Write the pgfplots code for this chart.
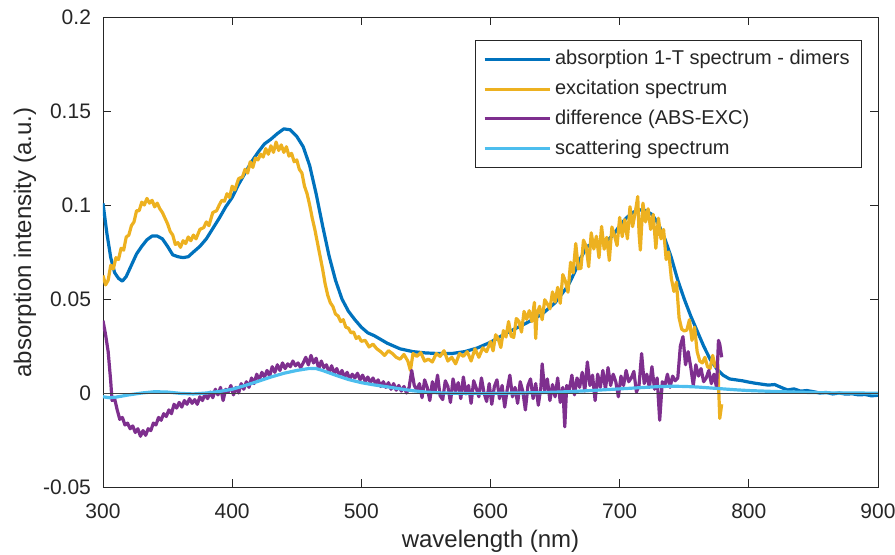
\documentclass[border=0pt]{standalone}
\usepackage{pgfplots}
\pgfplotsset{compat=1.18}
\usepackage{fontspec}
\setmainfont{Liberation Sans}
\definecolor{mblue}{rgb}{0,0.447,0.741}
\definecolor{morange}{rgb}{0.929,0.694,0.125}
\definecolor{mpurple}{rgb}{0.494,0.184,0.556}
\definecolor{mlblue}{rgb}{0.301,0.745,0.933}
\definecolor{axgray}{rgb}{0.15,0.15,0.15}
\begin{document}
\begin{tikzpicture}
\path[use as bounding box] (-51.5pt,-33.5pt) rectangle (396pt,243.5pt);
\begin{axis}[
  scale only axis, width=387.5pt, height=235pt,
  xmin=300, xmax=900, ymin=-0.05, ymax=0.2,
  xtick={300,400,500,600,700,800,900},
  xticklabels={300,400,500,600,700,800,900},
  ytick={-0.05,0,0.05,0.1,0.15,0.2},
  yticklabels={-0.05,0,0.05,0.1,0.15,0.2},
  tick label style={font=\fontsize{10.5}{12}\selectfont, text=axgray},
  yticklabel style={xshift=-2.5pt},
  xticklabel style={yshift=-5pt},
  major tick length=4pt,
  tick style={axgray, line width=0.4pt},
  axis line style={axgray, line width=0.4pt},
  xlabel={wavelength (nm)}, ylabel={absorption intensity (a.u.)},
  label style={font=\fontsize{12}{14}\selectfont, text=axgray},
  xlabel style={at={(axis description cs:0.5,-0.1149)}, anchor=center},
  ylabel style={at={(axis description cs:-0.1006,0.52)}, anchor=center},
  legend style={at={(axis description cs:0.9794,0.951)}, anchor=north east,
    font=\fontsize{10}{12}\selectfont, draw=axgray, line width=0.4pt,
    inner xsep=4pt, inner ysep=3pt, row sep=2.2pt, text=axgray},
  legend cell align=left,
  legend image code/.code={\draw[#1, line width=1.5pt] (0pt,0pt) -- (32.5pt,0pt);},
]
\addplot[mblue, line width=1.6pt, line join=round] coordinates {
(300,0.1009)(303,0.085)(306,0.072)(309,0.064)(312,0.061)(315,0.0595)(318,0.062)(322,0.068)(326,0.074)(330,0.078)(334,0.0815)(338,0.0835)(342,0.0835)(346,0.082)(350,0.078)(354,0.0735)(358,0.0725)(362,0.072)(366,0.0725)(370,0.075)(375,0.078)(380,0.082)(385,0.0875)(390,0.093)(395,0.099)(400,0.104)(405,0.111)(410,0.117)(415,0.123)(420,0.128)(425,0.1325)(430,0.135)(435,0.138)(440,0.1405)(445,0.140)(450,0.1365)(455,0.131)(460,0.121)(465,0.106)(470,0.089)(475,0.073)(480,0.060)(485,0.050)(490,0.0435)(495,0.039)(500,0.035)(505,0.032)(510,0.0305)(515,0.0285)(520,0.0265)(530,0.0235)(540,0.022)(550,0.0213)(560,0.021)(570,0.021)(580,0.022)(590,0.024)(600,0.027)(610,0.031)(620,0.0345)(630,0.038)(640,0.042)(650,0.048)(660,0.057)(665,0.064)(670,0.072)(675,0.078)(680,0.080)(690,0.081)(695,0.084)(700,0.089)(705,0.093)(710,0.096)(715,0.0975)(720,0.097)(725,0.095)(730,0.090)(735,0.082)(740,0.072)(745,0.060)(750,0.050)(755,0.041)(760,0.033)(765,0.025)(770,0.018)(775,0.013)(780,0.0095)(785,0.0075)(790,0.007)(795,0.0065)(800,0.0058)(805,0.0052)(810,0.0047)(815,0.0042)(820,0.0045)(825,0.003)(830,0.0016)(835,0.0022)(840,0.001)(845,0.0013)(850,0.0007)(855,0.0)(860,0.0003)(865,-0.0005)(870,0)(875,-0.0006)(880,-0.0004)(885,-0.001)(890,-0.0008)(895,-0.0015)(900,-0.0012)
};
\addlegendentry{absorption 1-T spectrum - dimers}
\addplot[morange, line width=1.6pt, line join=round] coordinates {
(300,0.0625)(302,0.0575)(304,0.060)(306,0.068)(308,0.066)(310,0.072)(312,0.071)(314,0.077)(316,0.076)(318,0.083)(320,0.084)(322,0.089)(324,0.091)(326,0.097)(328,0.097)(330,0.1015)(332,0.100)(334,0.1035)(336,0.101)(338,0.1025)(340,0.099)(342,0.101)(344,0.098)(346,0.096)(348,0.093)(350,0.090)(352,0.086)(354,0.084)(356,0.079)(358,0.080)(360,0.0775)(362,0.081)(364,0.0795)(366,0.083)(368,0.081)(370,0.084)(372,0.082)(375,0.087)(378,0.088)(380,0.091)(382,0.089)(385,0.096)(388,0.097)(390,0.100)(392,0.1025)(394,0.102)(396,0.106)(398,0.104)(400,0.110)(402,0.108)(405,0.114)(408,0.115)(410,0.119)(412,0.117)(414,0.123)(416,0.120)(418,0.125)(420,0.124)(422,0.127)(424,0.1255)(426,0.130)(428,0.127)(430,0.1315)(432,0.128)(434,0.1335)(436,0.129)(438,0.132)(440,0.128)(442,0.131)(444,0.126)(446,0.1275)(448,0.123)(450,0.124)(452,0.119)(454,0.117)(456,0.110)(458,0.106)(460,0.100)(462,0.093)(464,0.087)(466,0.080)(468,0.073)(470,0.066)(472,0.058)(474,0.052)(476,0.048)(478,0.046)(480,0.042)(482,0.041)(484,0.038)(486,0.039)(488,0.035)(490,0.0345)(492,0.032)(494,0.0325)(496,0.029)(498,0.030)(500,0.0275)
(503,0.028)(506,0.0245)(509,0.026)(512,0.0235)(515,0.022)(518,0.020)(521,0.0225)(524,0.021)(527,0.019)(530,0.018)(533,0.0205)(536,0.017)(538,0.012)(540,0.021)(543,0.0195)(546,0.0215)(549,0.017)(552,0.018)(555,0.0165)(558,0.021)(561,0.0195)(564,0.0225)(567,0.017)(570,0.019)(573,0.0155)(576,0.021)(579,0.0195)(582,0.022)(585,0.017)(588,0.0235)(591,0.019)(594,0.024)(597,0.022)
(600,0.0274)(602,0.0224)(604,0.031)(606,0.0288)(608,0.0242)(610,0.0332)(612,0.0298)(614,0.038)(616,0.0302)(618,0.0296)(620,0.0396)(622,0.0382)(624,0.0324)(626,0.0434)(628,0.0392)(630,0.0438)(632,0.038)(634,0.0482)(635,0.029)(636,0.042)(638,0.0461)(640,0.039)(642,0.0496)(644,0.0474)(646,0.0448)(648,0.0538)(650,0.0484)(652,0.0562)(654,0.0477)(656,0.063)(658,0.0594)(660,0.0536)(662,0.0696)(664,0.0639)(666,0.0795)(668,0.0661)(670,0.0663)(672,0.0813)(674,0.0781)(676,0.0672)(678,0.0852)(680,0.0766)(682,0.0834)(684,0.072)(686,0.0886)(688,0.0765)(690,0.0828)(692,0.0705)(694,0.0883)(696,0.0837)(698,0.0784)(700,0.0934)(702,0.0832)(704,0.0922)(706,0.082)(708,0.0991)(710,0.0885)(712,0.0958)(714,0.1045)(715,0.085)(716,0.076)(718,0.101)(720,0.091)(722,0.098)(724,0.087)(726,0.095)(728,0.077)(730,0.093)(732,0.082)(734,0.087)(736,0.071)(738,0.075)(740,0.061)(742,0.054)(744,0.059)(746,0.040)(748,0.034)(750,0.033)(752,0.0335)(754,0.039)(756,0.028)(758,0.035)(760,0.022)(762,0.017)(764,0.016)(766,0.019)(768,0.014)(770,0.013)(772,0.020)(774,0.014)(776,0.015)(777.5,-0.0135)(779,-0.006)
};
\addlegendentry{excitation spectrum}
\addplot[mpurple, line width=1.6pt, line join=round] coordinates {
(300,0.0385)(302,0.031)(304,0.022)(306,0.006)(307,-0.004)(309,-0.003)(311,-0.009)(313,-0.014)(315,-0.013)(317,-0.017)(319,-0.016)(321,-0.019)(323,-0.0175)(325,-0.021)(327,-0.019)(329,-0.023)(331,-0.020)(333,-0.0225)(335,-0.019)(337,-0.020)(339,-0.016)(341,-0.017)(343,-0.013)(345,-0.0145)(347,-0.011)(349,-0.0125)(351,-0.009)(353,-0.011)(355,-0.006)(357,-0.008)(359,-0.005)(361,-0.0075)(363,-0.004)(365,-0.006)(367,-0.003)(369,-0.0055)(371,-0.0035)(373,-0.006)(375,-0.002)(377,-0.004)(379,-0.0005)(381,-0.003)(383,0.0005)(385,-0.0025)(387,0.002)(389,-0.001)(391,0.003)(393,-0.004)(395,0.002)(397,0.0005)(399,0.004)(401,-0.001)(403,0.003)(405,0.000)(407,0.005)(409,0.002)(411,0.006)(413,0.003)(415,0.008)(417,0.005)(419,0.010)(421,0.007)(423,0.011)(425,0.0085)(427,0.012)(429,0.009)(431,0.014)(433,0.011)(435,0.015)(437,0.012)(439,0.016)(441,0.013)(443,0.0155)(445,0.014)(447,0.017)(449,0.0145)(451,0.016)(453,0.0135)(455,0.016)(457,0.019)(459,0.015)(461,0.020)(463,0.016)(465,0.0185)(467,0.013)(469,0.017)(471,0.0135)(473,0.015)(475,0.011)(477,0.0145)(479,0.0105)(481,0.013)(483,0.009)(485,0.012)(487,0.0085)(489,0.011)(491,0.0075)(493,0.010)(495,0.008)(497,0.0105)(499,0.007)(501,0.0095)(503,0.006)(505,0.0085)(507,0.0055)(509,0.008)(511,0.005)(513,0.007)(515,0.0035)(517,0.006)(519,0.003)(521,0.0055)(523,0.002)(525,0.005)(527,0.0015)(529,0.004)(531,0.001)(533,0.0035)(535,0.000)(537,0.003)(539,0.012)(541,0.004)(543,0.0015)
(545,0.005)(547,-0.0025)(549,0.007)(551,0.003)(553,-0.004)(555,0.006)(557,0.0005)(559,0.0095)(561,-0.0015)(563,-0.0035)(565,0.0065)(567,0.0035)(569,-0.005)(571,0.0075)(573,0.001)(575,0.0055)(577,-0.003)(579,0.0085)(581,-0.0005)(583,0.004)(585,-0.0055)(587,0.0065)(589,0.0025)(591,-0.002)(593,0.008)(595,0.0)(597,-0.0045)(599,0.005)(601,-0.006)(603,0.0035)(605,0.007)(607,-0.003)(609,0.004)(611,-0.0075)(613,0.002)(615,0.0095)(617,-0.002)(619,0.003)(621,-0.0055)(623,0.006)(625,0.001)(627,-0.009)(629,0.004)(631,0.0075)(633,-0.003)(635,0.005)(637,-0.0065)(639,0.003)(640,0.0155)(642,0.001)(644,0.0075)(646,-0.004)(648,0.0045)(650,-0.002)(652,0.008)(654,-0.005)(656,0.003)(657.5,-0.018)(659,0.004)(661,0.0015)(663,0.0095)(665,-0.001)(667,0.008)(669,0.003)(671,0.011)(673,0.001)(675,0.0165)(677,0.004)(679,0.0095)(681,-0.004)(683,0.010)(685,0.003)(687,0.012)(689,0.002)(691,0.0135)(693,0.004)(695,0.010)(697,0.006)(699,-0.002)(701,0.009)(703,0.004)(705,0.012)(707,0.006)(709,0.008)(711,0.0115)(713,0.0005)(715,0.004)(717,0.021)(719,0.005)(721,0.010)(723,0.003)(725,0.014)(727,0.002)(729,0.008)(731,-0.0145)(733,0.006)(735,0.004)(737,0.010)(739,0.003)(741,0.009)(743,0.0065)(745,0.008)(747,0.025)(749,0.030)(751,0.015)(753,0.022)(755,0.014)(757,0.004)(759,0.015)(761,0.009)(763,0.013)(765,0.006)(767,0.008)(769,0.012)(771,0.005)(773,0.010)(775,0.003)(776.5,0.028)(777.5,0.026)(779,0.019)
};
\addlegendentry{difference (ABS-EXC)}
\addplot[mlblue, line width=1.6pt, line join=round] coordinates {
(300,-0.002)(305,-0.0025)(310,-0.0022)(320,-0.001)(330,0.0)(340,0.0007)(350,0.0005)(360,-0.0002)(370,-0.0005)(380,0.0)(390,0.0008)(400,0.002)(410,0.004)(420,0.0062)(430,0.0085)(440,0.0105)(450,0.012)(460,0.0131)(465,0.013)(470,0.012)(480,0.0095)(490,0.0072)(500,0.0055)(510,0.0043)(520,0.0033)(530,0.0022)(540,0.0012)(550,0.0005)(560,0.0001)(570,-0.0001)(580,-0.0002)(600,-0.0002)(620,0.0)(640,0.0002)(660,0.0007)(680,0.0014)(700,0.0022)(720,0.003)(730,0.0034)(740,0.0036)(750,0.0035)(760,0.0032)(770,0.0027)(780,0.0022)(790,0.0017)(800,0.0013)(820,0.0008)(840,0.0004)(860,0.0001)(880,0.0)(900,-0.0001)
};
\addlegendentry{scattering spectrum}
\addplot[black!75, line width=0.5pt, forget plot] coordinates {(300,0) (900,0)};
\end{axis}
\end{tikzpicture}
\end{document}
